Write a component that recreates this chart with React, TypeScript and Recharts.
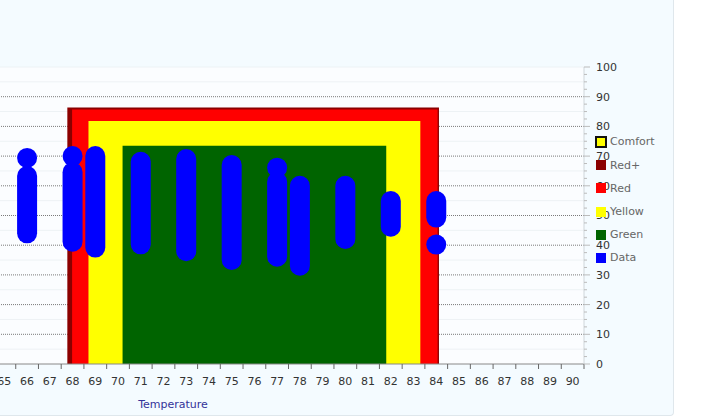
import React from "react";
import {
  ComposedChart,
  XAxis,
  YAxis,
  CartesianGrid,
  ReferenceArea,
  ReferenceLine,
  Scatter,
} from "recharts";

// temperature ticks along the bottom
const xTicks = [65, 66, 67, 68, 69, 70, 71, 72, 73, 74, 75, 76, 77, 78, 79, 80, 81, 82, 83, 84, 85, 86, 87, 88, 89, 90];
const yTicks = [
  0, 2.5, 5, 7.5, 10, 12.5, 15, 17.5, 20, 22.5, 25, 27.5, 30, 32.5, 35, 37.5, 40, 42.5, 45, 47.5, 50,
  52.5, 55, 57.5, 60, 62.5, 65, 67.5, 70, 72.5, 75, 77.5, 80, 82.5, 85, 87.5, 90, 92.5, 95, 97.5, 100,
];
const gridTicks = [10, 20, 30, 40, 50, 60, 70, 80, 90];
const faintTicks = [5, 15, 25, 35, 45, 55, 65, 75, 85, 95, 100];

// comfort zones (outer to inner)
const zoneNames = ["Red+", "Red", "Yellow", "Green"];
const zoneFrom = [67.77, 67.98, 68.7, 70.2];
const zoneTo = [84.12, 84.06, 83.3, 81.8];
const zoneTop = [86.4, 85.7, 81.8, 73.5];
const zoneColors = ["#8b0000", "#ff0000", "#ffff00", "#006400"];

// data ranges per temperature
const temps = [66, 68, 69, 71, 73, 75, 77, 78, 80, 82, 84];
const lows = [44.0, 41.2, 39.2, 40.3, 38.0, 35.0, 36.1, 33.1, 42.1, 46.2, 49.3];
const highs = [63.3, 64.6, 70.0, 68.1, 69.0, 67.0, 61.3, 60.0, 60.0, 54.9, 54.9];

// single readings
const dotTemps = [66, 68, 77, 84];
const dotValues = [69.4, 70.0, 66.1, 40.2];

const legendNames = ["Comfort", "Red+", "Red", "Yellow", "Green", "Data"];
const legendColors = ["#ffff00", "#8b0000", "#ff0000", "#ffff00", "#006400", "#0000ff"];

const FONT = "'DejaVu Sans', Verdana, sans-serif";
const HALF_STEP = 11.37; // half a degree in px, for the tick marks between labels

const dots = dotTemps.map((t, i) => ({ t, v: dotValues[i] }));

function XTick(props: any) {
  const { x, y, payload } = props;
  return (
    <g>
      <line x1={x + HALF_STEP} y1={y - 13} x2={x + HALF_STEP} y2={y - 8} stroke="#666" />
      <text x={x} y={y} dy="0.71em" textAnchor="middle" fontSize={11} fill="#333" fontFamily={FONT}>
        {payload.value}
      </text>
    </g>
  );
}

function YTick(props: any) {
  const { x, y, payload } = props;
  const major = payload.value % 10 === 0;
  return (
    <g>
      <line x1={x - 12} y1={y} x2={major ? x - 6 : x - 9} y2={y} stroke="#bbb" />
      {major && (
        <text x={x} y={y} dy="0.355em" textAnchor="start" fontSize={11} fill="#333" fontFamily={FONT}>
          {payload.value}
        </text>
      )}
    </g>
  );
}

function LegendList() {
  return (
    <div
      style={{
        position: "absolute",
        left: 595,
        top: 130.4,
        fontFamily: FONT,
        fontSize: 11,
        color: "#666",
      }}
    >
      {legendNames.map((name, i) => (
        <div key={name} style={{ display: "flex", alignItems: "center", height: 23.2 }}>
          <div style={{ width: 15 }}>
            {i === 0 ? (
              <div
                style={{
                  width: 12,
                  height: 12,
                  boxSizing: "border-box",
                  border: "2px solid #111",
                  background: legendColors[i],
                }}
              />
            ) : (
              <div style={{ width: 10, height: 10, marginLeft: 1, background: legendColors[i] }} />
            )}
          </div>
          <span>{name}</span>
        </div>
      ))}
    </div>
  );
}

export default function App() {
  return (
    <div
      style={{
        position: "absolute",
        left: 0,
        top: 0,
        width: 721,
        height: 420,
        overflow: "hidden",
        background: "#fff",
        fontFamily: FONT,
      }}
    >
      <div
        style={{
          position: "absolute",
          left: 0,
          top: 0,
          width: 673,
          height: 415,
          background: "#f4fbff",
          borderRight: "1px solid #dfe7ec",
          borderBottom: "1px solid #dfe7ec",
          borderBottomRightRadius: 4,
        }}
      />
      <div style={{ position: "absolute", left: -40, top: 0 }}>
        <ComposedChart width={720} height={420} margin={{ top: 67, right: 16, bottom: 26, left: 33 }}>
          <CartesianGrid horizontal={false} vertical={false} stroke="none" fill="#fbfdff" />
          <XAxis
            type="number"
            dataKey="t"
            domain={[64.5, 90.5]}
            ticks={xTicks}
            interval={0}
            allowDataOverflow
            height={30}
            tickSize={5}
            tickMargin={8}
            tickLine={false}
            axisLine={{ stroke: "#888" }}
            tick={(p: any) => <XTick {...p} />}
          />
          <YAxis
            type="number"
            orientation="right"
            domain={[0, 100]}
            ticks={yTicks}
            interval={0}
            width={80}
            tickSize={6}
            tickMargin={6}
            tickLine={false}
            axisLine={{ stroke: "#cfd6da" }}
            tick={(p: any) => <YTick {...p} />}
          />
          {faintTicks.map((v) => (
            <ReferenceLine key={"f" + v} y={v} stroke="#edf2f5" zIndex={50} />
          ))}
          {gridTicks.map((v) => (
            <ReferenceLine key={"g" + v} y={v} stroke="#7a7a7a" strokeDasharray="1 1" zIndex={50} />
          ))}
          {zoneNames.map((name, i) => (
            <ReferenceArea
              key={name}
              x1={zoneFrom[i]}
              x2={zoneTo[i]}
              y1={0}
              y2={zoneTop[i]}
              fill={zoneColors[i]}
              fillOpacity={1}
              stroke="none"
            />
          ))}
          {temps.map((t, i) => (
            <ReferenceLine
              key={t}
              segment={[
                { x: t, y: lows[i] },
                { x: t, y: highs[i] },
              ]}
              stroke="#0000ff"
              strokeWidth={20}
              strokeLinecap="round"
            />
          ))}
          <Scatter
            data={dots}
            dataKey="v"
            isAnimationActive={false}
            shape={(p: any) => <circle cx={p.cx} cy={p.cy} r={10} fill="#0000ff" />}
          />
        </ComposedChart>
      </div>
      <LegendList />
      <div
        style={{
          position: "absolute",
          left: 73,
          top: 398,
          width: 200,
          textAlign: "center",
          fontSize: 11,
          lineHeight: "14px",
          color: "#333399",
        }}
      >
        Temperature
      </div>
    </div>
  );
}
